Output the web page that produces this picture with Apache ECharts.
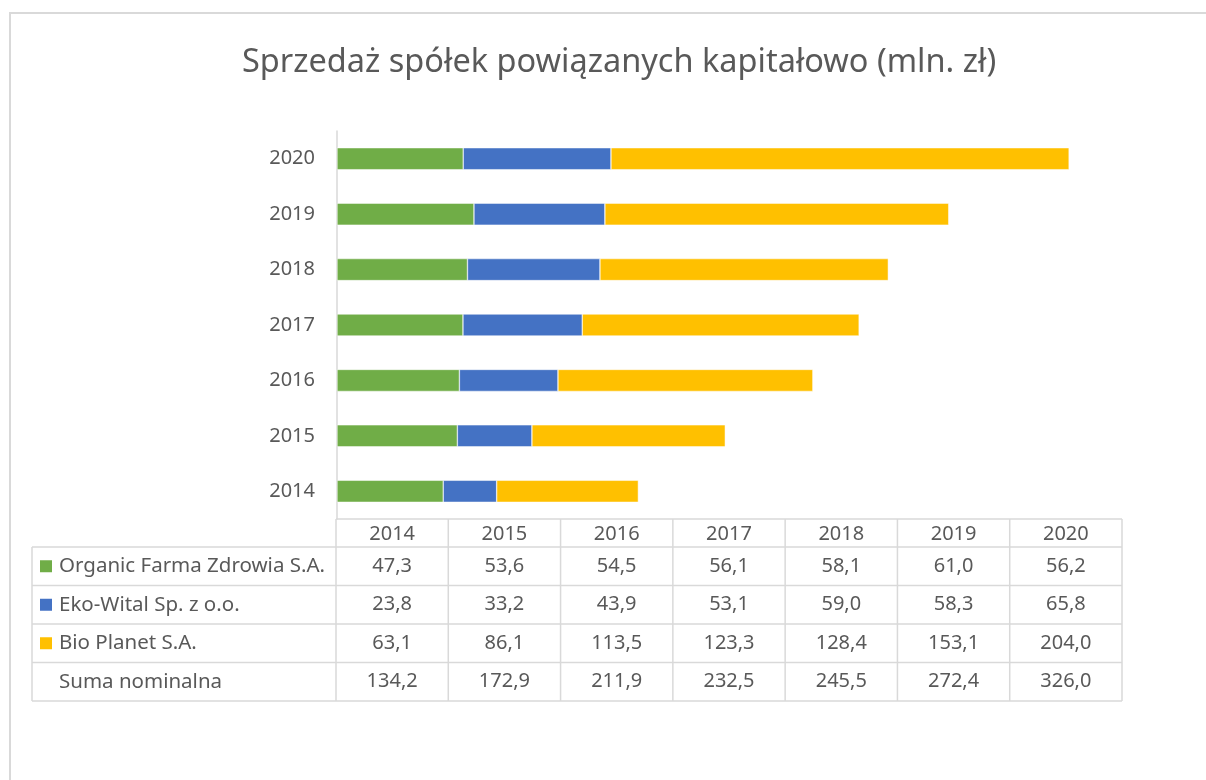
<!DOCTYPE html>
<html>
<head>
<meta charset="utf-8">
<script src="https://cdn.jsdelivr.net/npm/echarts@6/dist/echarts.min.js"></script>
<style>
  html, body { margin: 0; padding: 0; background: #fff; }
  #chart { width: 1206px; height: 780px; }
</style>
</head>
<body>
<div id="chart"></div>
<script>
// dane
var years = ['2014', '2015', '2016', '2017', '2018', '2019', '2020'];
var seriesNames = ['Organic Farma Zdrowia S.A.', 'Eko-Wital Sp. z o.o.', 'Bio Planet S.A.'];
var organic = [47.3, 53.6, 54.5, 56.1, 58.1, 61.0, 56.2];
var eko = [23.8, 33.2, 43.9, 53.1, 59.0, 58.3, 65.8];
var bio = [63.1, 86.1, 113.5, 123.3, 128.4, 153.1, 204.0];
var sumLabel = 'Suma nominalna';
var suma = [134.2, 172.9, 211.9, 232.5, 245.5, 272.4, 326.0];

var colors = ['#70ad47', '#4472c4', '#ffc000'];
var textColor = '#595959';
var lineColor = '#d9d9d9';
var font = '"Noto Sans", "Open Sans", sans-serif';

// uklad
var gridLeft = 337, gridTop = 131, gridWidth = 786, gridHeight = 388;
var colW = gridWidth / 7;
var tableLeft = 32;
var headTop = gridTop + gridHeight, headH = 28, rowH = 38.5;

function fmt(v) {
  return v.toFixed(1).replace('.', ',');
}

var chart = echarts.init(document.getElementById('chart'));

var g = [];
// ramka wykresu
g.push({
  type: 'rect', shape: { x: 10, y: 13, width: 1230, height: 800 },
  style: { fill: 'none', stroke: lineColor, lineWidth: 2 }, silent: true
});

var rows = [organic, eko, bio, suma];
var rowNames = seriesNames.concat([sumLabel]);
var bodyTop = headTop + headH;
var tableBottom = bodyTop + rowH * rows.length;
var tableRight = gridLeft - 1 + colW * 7;

// linie tabeli
function hline(y, x1, x2) {
  g.push({ type: 'line', shape: { x1: x1, y1: y, x2: x2, y2: y },
    style: { stroke: lineColor, lineWidth: 1.5 }, silent: true });
}
function vline(x, y1, y2) {
  g.push({ type: 'line', shape: { x1: x, y1: y1, x2: x, y2: y2 },
    style: { stroke: lineColor, lineWidth: 1.5 }, silent: true });
}
hline(headTop, gridLeft - 1, tableRight);
for (var r = 0; r <= rows.length; r++) hline(bodyTop + r * rowH, tableLeft, tableRight);
vline(tableLeft, bodyTop, tableBottom);
for (var c = 0; c <= years.length; c++) vline(gridLeft - 1 + c * colW, headTop, tableBottom);

// naglowek
years.forEach(function (y, i) {
  g.push({ type: 'text', x: gridLeft - 1 + (i + 0.5) * colW, y: headTop + headH / 2 + 1,
    style: { text: y, fill: textColor, font: '20px ' + font, align: 'center', verticalAlign: 'middle' }, silent: true });
});

// wiersze
rows.forEach(function (vals, r) {
  var cy = bodyTop + (r + 0.5) * rowH;
  if (r < colors.length) {
    g.push({ type: 'rect', shape: { x: 40, y: cy - 6, width: 12, height: 12 },
      style: { fill: colors[r] }, silent: true });
  }
  g.push({ type: 'text', x: 59, y: cy,
    style: { text: rowNames[r], fill: textColor, font: '20.5px ' + font, align: 'left', verticalAlign: 'middle' }, silent: true });
  vals.forEach(function (v, i) {
    g.push({ type: 'text', x: gridLeft - 1 + (i + 0.5) * colW, y: cy,
      style: { text: fmt(v), fill: textColor, font: '20px ' + font, align: 'center', verticalAlign: 'middle' }, silent: true });
  });
});

var option = {
  animation: false,
  backgroundColor: '#fff',
  color: colors,
  title: {
    text: 'Sprzedaż spółek powiązanych kapitałowo (mln. zł)',
    left: 237,
    top: 41,
    textStyle: { color: textColor, fontSize: 32.5, fontWeight: 'normal', fontFamily: font }
  },
  grid: { left: gridLeft, top: gridTop, width: gridWidth, height: gridHeight },
  xAxis: {
    type: 'value', min: 0, max: 350,
    show: false
  },
  yAxis: {
    type: 'category',
    data: years,
    axisLine: { lineStyle: { color: lineColor, width: 1.5 } },
    axisTick: { show: false },
    axisLabel: { color: textColor, fontSize: 20, fontFamily: font, margin: 22 }
  },
  series: [
    { name: seriesNames[0], type: 'bar', stack: 'total', barWidth: 22, data: organic,
      itemStyle: { borderColor: '#fff', borderWidth: 0.5 } },
    { name: seriesNames[1], type: 'bar', stack: 'total', barWidth: 22, data: eko,
      itemStyle: { borderColor: '#fff', borderWidth: 0.5 } },
    { name: seriesNames[2], type: 'bar', stack: 'total', barWidth: 22, data: bio,
      itemStyle: { borderColor: '#fff', borderWidth: 0.5 } }
  ],
  graphic: g
};

chart.setOption(option);
</script>
</body>
</html>
